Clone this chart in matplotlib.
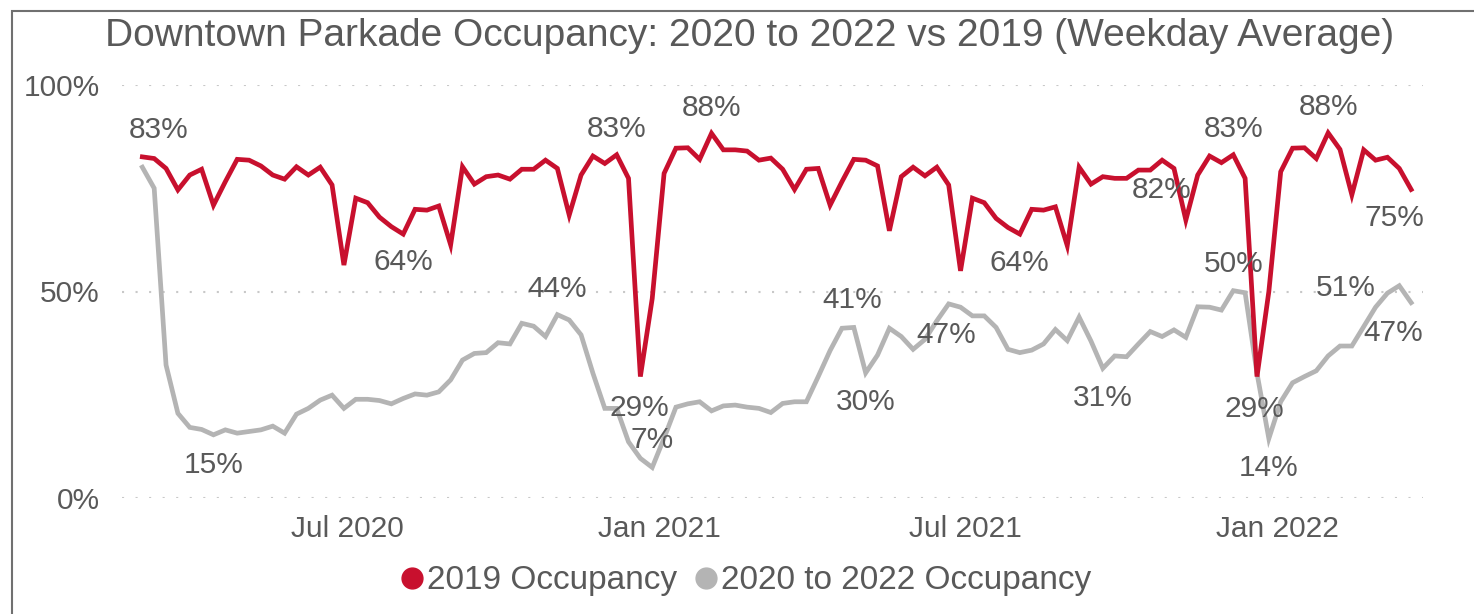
import numpy as np
import pandas as pd
import matplotlib
matplotlib.use('Agg')
import matplotlib.pyplot as plt
import matplotlib.dates as mdates
from matplotlib.lines import Line2D
from matplotlib.patches import Rectangle

plt.rcParams['font.family'] = ['Liberation Sans', 'DejaVu Sans']

## Data ##################################

start_week = '2020-03-02'
n_weeks = 108

occ_2019 = [82.6, 82.2, 79.8, 74.6, 78.2, 79.6, 70.9, 76.6, 82.0, 81.8,
            80.4, 78.2, 77.2, 80.2, 78.2, 80.1, 75.8, 56.4, 72.6, 71.5,
            68.0, 65.7, 63.9, 69.9, 69.7, 70.7, 61.3, 80.2, 76.0, 77.8,
            78.2, 77.2, 79.6, 79.6, 81.8, 79.8, 68.5, 78.2, 82.8, 81.0,
            83.1, 77.4, 29.4, 48.3, 78.6, 84.7, 84.8, 82.0, 88.3, 84.3,
            84.3, 84.0, 81.8, 82.3, 79.6, 74.7, 79.6, 79.8, 70.9, 76.6,
            82.0, 81.8, 80.4, 64.7, 77.8, 80.1, 78.0, 80.1, 75.8, 55.0,
            72.6, 71.5, 67.7, 65.5, 63.9, 69.9, 69.7, 70.5, 61.1, 80.1,
            76.0, 77.8, 77.4, 77.4, 79.4, 79.4, 81.8, 79.8, 67.3, 78.2,
            82.8, 81.2, 83.1, 77.4, 29.4, 50.0, 79.0, 84.7, 84.8, 82.2,
            88.4, 84.4, 73.4, 84.3, 81.8, 82.5, 79.8, 74.7]

occ_2020_22 = [80.1, 75.0, 32.2, 20.5, 17.1, 16.6, 15.3, 16.5, 15.7, 16.1,
               16.5, 17.4, 15.7, 20.3, 21.7, 23.7, 24.9, 21.7, 23.9, 23.9,
               23.6, 22.8, 24.1, 25.2, 24.9, 25.7, 28.6, 33.4, 35.0, 35.2,
               37.6, 37.3, 42.3, 41.6, 39.1, 44.4, 43.1, 39.5, 30.2, 21.7,
               21.7, 13.6, 9.6, 7.4, 14.5, 22.0, 22.8, 23.3, 21.1, 22.3,
               22.5, 22.0, 21.7, 20.7, 22.9, 23.3, 23.3, 29.4, 35.7, 41.1,
               41.3, 30.3, 34.6, 41.1, 39.1, 36.0, 38.4, 42.9, 47.0, 46.2,
               44.1, 44.1, 41.3, 36.0, 35.2, 35.8, 37.3, 40.8, 38.1, 43.8,
               38.0, 31.4, 34.4, 34.2, 37.3, 40.3, 39.1, 40.7, 38.9, 46.3,
               46.2, 45.5, 50.2, 49.7, 30.2, 14.4, 23.3, 27.9, 29.4, 30.8,
               34.4, 36.8, 36.8, 41.5, 46.2, 49.6, 51.4, 47.3]

weeks = pd.date_range(start_week, periods=n_weeks, freq='7D')

# labelled points: (week index, x offset px, y offset px)
labels_2019 = [(0, 16, 27), (22, 0, -28), (40, 0, 26), (42, -1, -31),
               (48, 0, 25), (74, 0, -29), (86, 0, -30), (92, 0, 26),
               (94, -3, -32), (100, 0, 26), (107, -17, -29)]
labels_2020_22 = [(6, 0, -30), (35, 0, 26), (43, 0, 27), (60, -2, 27),
                  (61, 0, -29), (68, -2, -31), (81, 0, -30), (92, 0, 27),
                  (95, 0, -29), (106, -54, -2), (107, -18, -30)]

tick_dates = ['2020-07-01', '2021-01-01', '2021-07-01', '2022-01-01']

## Plot ##################################

red = '#C8102E'
grey = '#B4B4B4'
txt = '#595959'

fig = plt.figure(figsize=(14.74, 6.14), dpi=100)
W, H = 1474, 614
ax = fig.add_axes([122 / W, 1 - 498 / H, (1423 - 122) / W, (498 - 85) / H])

ax.plot(weeks, occ_2019, color=red, lw=3.4, solid_joinstyle='miter', clip_on=False, zorder=3)
ax.plot(weeks, occ_2020_22, color=grey, lw=3.4, solid_joinstyle='miter', clip_on=False, zorder=2)

for series, lab in [(occ_2019, labels_2019), (occ_2020_22, labels_2020_22)]:
    for i, dx, dy in lab:
        ax.annotate(f"{series[i]:.0f}%", xy=(weeks[i], series[i]), xytext=(dx, dy),
                    textcoords='offset pixels', ha='center', va='center',
                    fontsize=21.5, color=txt, zorder=5)

ax.set_ylim(0, 100)
ax.set_xlim(pd.Timestamp('2020-02-19'), pd.Timestamp('2022-03-28'))
ax.set_yticks([0, 50, 100])
ax.set_yticklabels(['0%', '50%', '100%'])
ax.set_xticks(pd.to_datetime(tick_dates))
ax.xaxis.set_major_formatter(mdates.DateFormatter('%b %Y'))
ax.tick_params(axis='both', length=0, labelsize=21.5, colors=txt)
ax.tick_params(axis='x', pad=12)
ax.tick_params(axis='y', pad=16)
ax.grid(axis='y', color='#C8C8C8', lw=1.5, linestyle=(0, (1, 5.5)))
ax.set_axisbelow(True)
for s in ax.spines.values():
    s.set_visible(False)

fig.text(750 / W, 1 - 36 / H, 'Downtown Parkade Occupancy: 2020 to 2022 vs 2019 (Weekday Average)',
         ha='center', va='center', fontsize=28, color=txt)

handles = [Line2D([], [], marker='o', ls='none', color=red, markersize=15),
           Line2D([], [], marker='o', ls='none', color=grey, markersize=15)]
fig.legend(handles, ['2019 Occupancy', '2020 to 2022 Occupancy'], loc='center',
           bbox_to_anchor=(744 / W, 1 - 581 / H), ncol=2, frameon=False,
           fontsize=24, labelcolor=txt, handletextpad=0.0, columnspacing=0.4,
           handlelength=0.9)

fig.add_artist(Rectangle((12 / W, -0.2), 1.2, 1.2 - 11 / H, transform=fig.transFigure,
                         fill=False, edgecolor='#707070', lw=1.5))

fig.savefig('out.png', dpi=100)
